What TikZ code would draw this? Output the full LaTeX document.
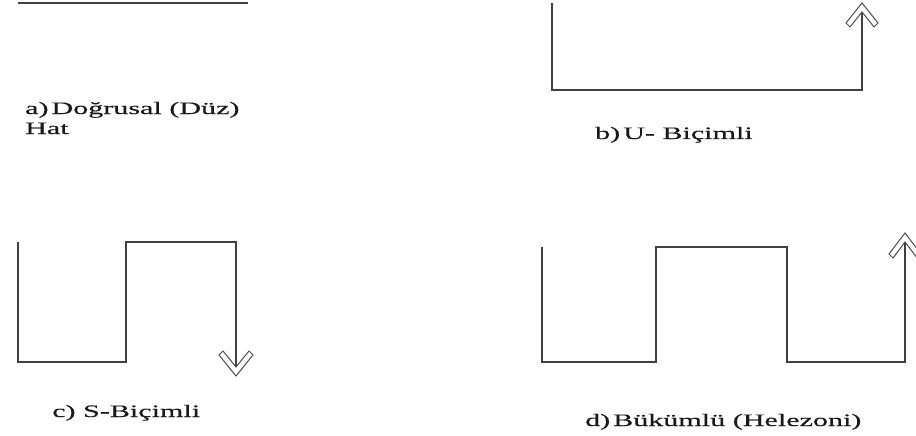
\documentclass[tikz,border=0pt]{standalone}
\usepackage{fontspec}
\setmainfont{Liberation Serif}
\newfontfamily\widefont[FakeStretch=1.72,FakeBold=0.4]{Liberation Serif}
\begin{document}
\begin{tikzpicture}[x=1pt,y=-1pt,
  pathline/.style={draw=black!75,line width=1.5pt,line join=miter},
  chevron/.style={draw=black!70,line width=1pt,fill=white,line join=miter},
  caption/.style={inner sep=0pt,font=\widefont\fontsize{17.5}{20}\selectfont,text=black!90}]
\useasboundingbox (0,0) rectangle (916,436);
% a) straight line
\coordinate (a1) at (18,3);
\coordinate (a2) at (248,3);
\draw[pathline] (a1) -- (a2);
\node[caption,anchor=base west,align=left] (la) at (25,134) {a)\,Doğrusal (Düz)\\Hat};
% b) U shape
\coordinate (b1) at (552,3);
\coordinate (b2) at (552,90);
\coordinate (b3) at (862,90);
\coordinate (b4) at (862,5);
\draw[pathline] (b1) -- (b2) -- (b3) -- (b4);
\draw[chevron] (862,3) -- (878,23) -- (874,27) -- (862,12) -- (850,27) -- (846,23) -- cycle;
\node[caption,anchor=base west] (lb) at (595,139) {b)\,U- Biçimli};
% c) S shape
\coordinate (c1) at (18,242);
\coordinate (c2) at (18,362);
\coordinate (c3) at (126,362);
\coordinate (c4) at (126,242);
\coordinate (c5) at (236,242);
\coordinate (c6) at (236,373);
\draw[pathline] (c1) -- (c2) -- (c3) -- (c4) -- (c5) -- (c6);
\draw[chevron] (236,376) -- (253,355) -- (249,351) -- (236,367) -- (223,351) -- (219,355) -- cycle;
\node[caption,anchor=base west] (lc) at (52,417) {c) S-Biçimli};
% d) bent (helical)
\coordinate (d1) at (542,247);
\coordinate (d2) at (542,362);
\coordinate (d3) at (656,362);
\coordinate (d4) at (656,247);
\coordinate (d5) at (787,247);
\coordinate (d6) at (787,362);
\coordinate (d7) at (905,362);
\coordinate (d8) at (905,235);
\draw[pathline] (d1) -- (d2) -- (d3) -- (d4) -- (d5) -- (d6) -- (d7) -- (d8);
\draw[chevron] (905,233) -- (921,254) -- (917,258) -- (905,242) -- (893,258) -- (889,254) -- cycle;
\node[caption,anchor=base west] (ld) at (585,426) {d)\,Bükümlü (Helezoni)};
\end{tikzpicture}
\end{document}
